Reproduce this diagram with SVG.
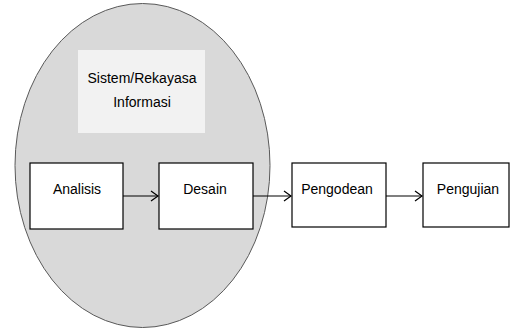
<svg xmlns="http://www.w3.org/2000/svg" width="511" height="329" viewBox="0 0 511 329">
<style>
.box{fill:#ffffff;stroke:#000000;stroke-width:1.2}
.t{font-family:"Liberation Sans",Arial,sans-serif;font-size:14px;fill:#000;text-anchor:middle}
.c{stroke:#000;stroke-width:1.2;fill:none}
</style>
<defs>
<marker id="arr" markerWidth="10" markerHeight="12" refX="8" refY="6" orient="auto" markerUnits="userSpaceOnUse">
<path d="M1,1 L8,6 L1,11" fill="none" stroke="#000" stroke-width="1.2"/>
</marker>
</defs>
<g id="sistem">
<ellipse cx="142.5" cy="165.5" rx="127.5" ry="162" fill="#d9d9d9" stroke="#595959" stroke-width="1"/>
<rect x="78" y="50" width="127" height="83" fill="#f2f2f2"/>
<text class="t" x="142" y="83">Sistem/Rekayasa</text>
<text class="t" x="142" y="107">Informasi</text>
</g>
<g id="analisis">
<rect class="box" x="30" y="163" width="93" height="66"/>
<text class="t" x="77" y="194">Analisis</text>
</g>
<g id="desain">
<rect class="box" x="159" y="163" width="94" height="66"/>
<text class="t" x="205" y="194">Desain</text>
</g>
<g id="pengodean">
<rect class="box" x="292" y="163" width="94" height="64"/>
<text class="t" x="337" y="194">Pengodean</text>
</g>
<g id="pengujian">
<rect class="box" x="423" y="163" width="86" height="64"/>
<text class="t" x="468" y="194">Pengujian</text>
</g>
<g id="connectors">
<line class="c" x1="123" y1="196" x2="158" y2="196" marker-end="url(#arr)"/>
<line class="c" x1="253" y1="196" x2="291" y2="196" marker-end="url(#arr)"/>
<line class="c" x1="386" y1="196" x2="422" y2="196" marker-end="url(#arr)"/>
</g>
</svg>
